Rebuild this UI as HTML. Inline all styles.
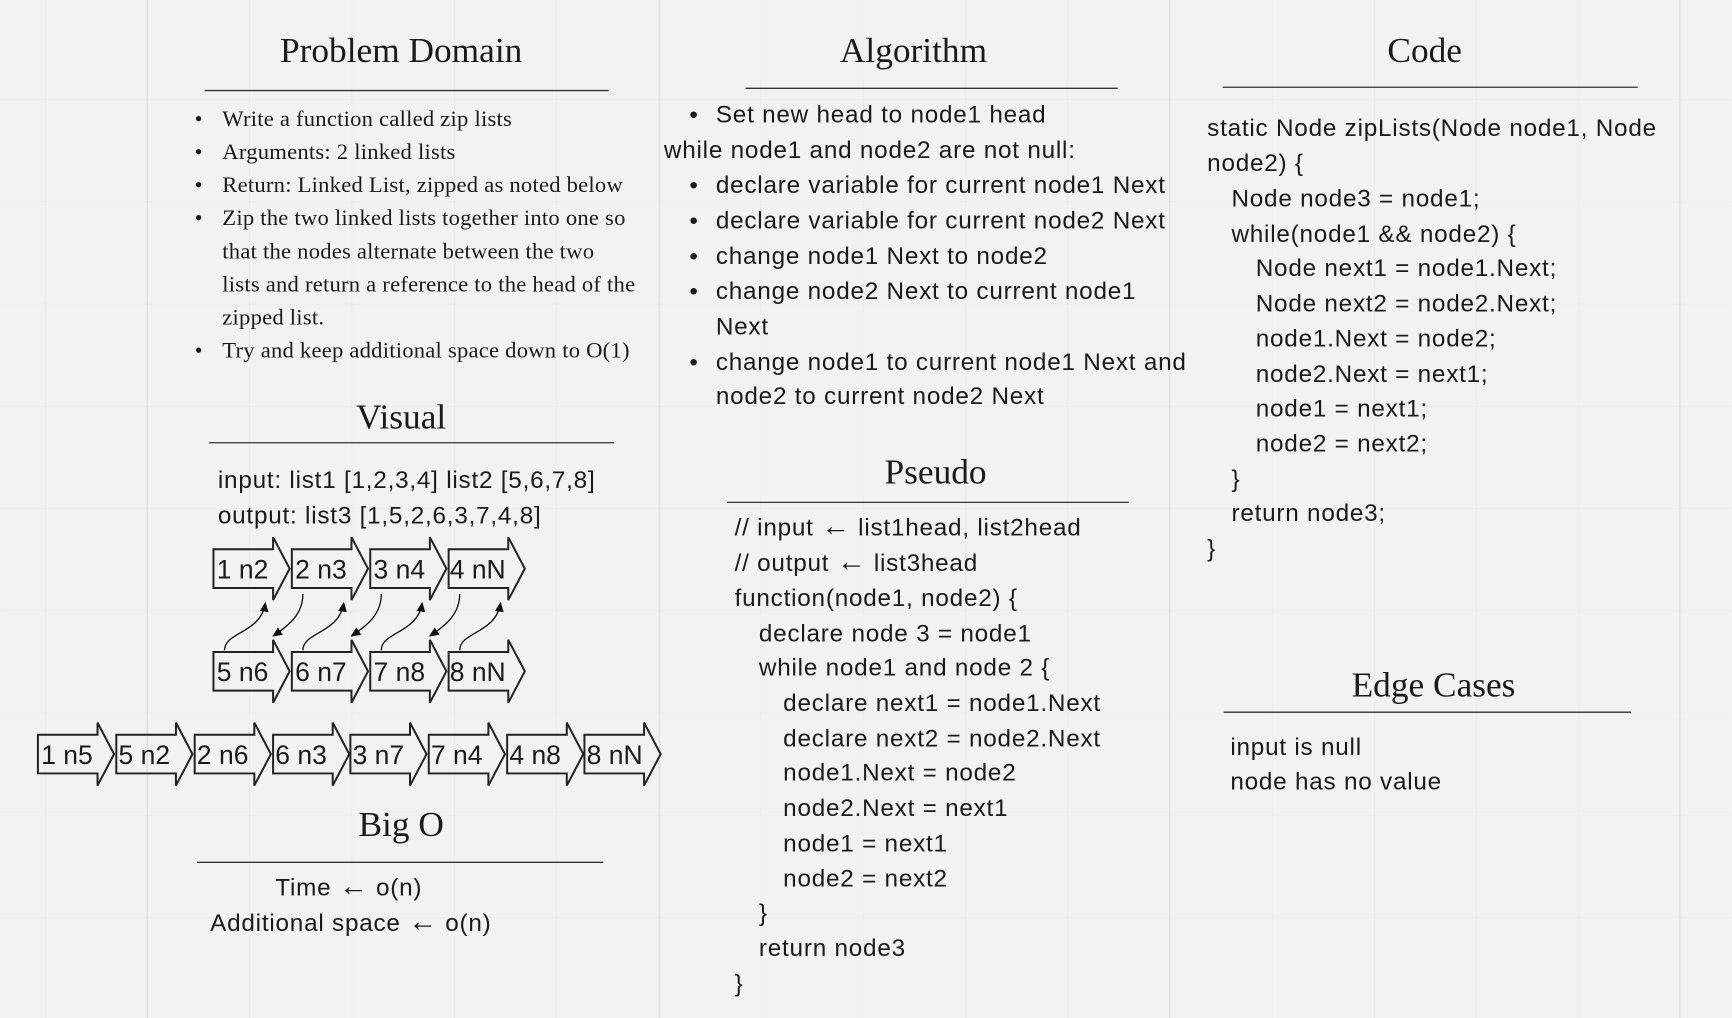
<!DOCTYPE html>
<html><head><meta charset="utf-8"><style>
html,body{margin:0;padding:0;background:#f2f2f2;}
svg{display:block}
.s{font-family:"Liberation Serif",serif;fill:#1a1a1a}
.t{font-family:"Liberation Sans",sans-serif;fill:#1a1a1a}
.b{font-size:22px;letter-spacing:0.7px}
</style></head><body>
<svg width="1732" height="1018" viewBox="0 0 1568 922" xmlns="http://www.w3.org/2000/svg">
<defs>
<marker id="ah" markerWidth="10" markerHeight="10" refX="8" refY="4" orient="auto" markerUnits="userSpaceOnUse">
<path d="M0,0 L9,4 L0,8 Z" fill="#111"/></marker>
<pattern id="g" width="92.6" height="92.6" patternUnits="userSpaceOnUse" x="133" y="90">
<path d="M0,0 V92.6 M0,0 H92.6" stroke="#e8e8e8" stroke-width="1" fill="none"/></pattern>
</defs>
<rect width="1568" height="922" fill="#f2f2f2"/>
<rect width="1568" height="922" fill="url(#g)"/>
<g stroke="#e2e2e2" stroke-width="1.5">
<line x1="133" y1="0" x2="133" y2="922"/><line x1="597" y1="0" x2="597" y2="922"/>
<line x1="1059" y1="0" x2="1059" y2="922"/><line x1="1521" y1="0" x2="1521" y2="922"/>
</g>

<g class="s" font-size="32" text-anchor="middle">
<text x="363" y="56">Problem Domain</text>
<text x="827" y="56">Algorithm</text>
<text x="1290" y="56">Code</text>
<text x="363" y="388">Visual</text>
<text x="847" y="438">Pseudo</text>
<text x="363" y="757">Big O</text>
<text x="1298" y="631">Edge Cases</text>
</g>
<g stroke="#333" stroke-width="1.2">
<line x1="185" y1="82" x2="551" y2="82"/>
<line x1="675" y1="80" x2="1012" y2="80"/>
<line x1="1107" y1="79" x2="1483" y2="79"/>
<line x1="189" y1="401" x2="556" y2="401"/>
<line x1="658" y1="455" x2="1022" y2="455"/>
<line x1="178" y1="781" x2="546" y2="781"/>
<line x1="1108" y1="645" x2="1477" y2="645"/>
</g>

<g class="s" font-size="20.5" letter-spacing="0.2">
<text x="176" y="114">•</text><text x="201" y="114">Write a function called zip lists</text>
<text x="176" y="144">•</text><text x="201" y="144">Arguments: 2 linked lists</text>
<text x="176" y="174">•</text><text x="201" y="174">Return: Linked List, zipped as noted below</text>
<text x="176" y="204">•</text><text x="201" y="204">Zip the two linked lists together into one so</text>
<text x="201" y="234">that the nodes alternate between the two</text>
<text x="201" y="264">lists and return a reference to the head of the</text>
<text x="201" y="294">zipped list.</text>
<text x="176" y="324">•</text><text x="201" y="324">Try and keep additional space down to O(1)</text>
</g>

<g class="t b">
<text x="624" y="111">•</text><text x="648" y="111">Set new head to node1 head</text>
<text x="601" y="143">while node1 and node2 are not null:</text>
<text x="624" y="175">•</text><text x="648" y="175">declare variable for current node1 Next</text>
<text x="624" y="207">•</text><text x="648" y="207">declare variable for current node2 Next</text>
<text x="624" y="239">•</text><text x="648" y="239">change node1 Next to node2</text>
<text x="624" y="271">•</text><text x="648" y="271">change node2 Next to current node1</text>
<text x="648" y="303">Next</text>
<text x="624" y="335">•</text><text x="648" y="335">change node1 to current node1 Next and</text>
<text x="648" y="366">node2 to current node2 Next</text>
</g>

<g class="t b">
<text x="1093" y="123">static Node zipLists(Node node1, Node</text>
<text x="1093" y="155">node2) {</text>
<text x="1115" y="187">Node node3 = node1;</text>
<text x="1115" y="219">while(node1 &amp;&amp; node2) {</text>
<text x="1137" y="250">Node next1 = node1.Next;</text>
<text x="1137" y="282">Node next2 = node2.Next;</text>
<text x="1137" y="314">node1.Next = node2;</text>
<text x="1137" y="346">node2.Next = next1;</text>
<text x="1137" y="377">node1 = next1;</text>
<text x="1137" y="409">node2 = next2;</text>
<text x="1115" y="441">}</text>
<text x="1115" y="472">return node3;</text>
<text x="1093" y="504">}</text>
</g>

<g class="t b">
<text x="1114" y="684">input is null</text>
<text x="1114" y="715">node has no value</text>
</g>

<g class="t b">
<text x="665" y="485">// input <tspan font-size="26">←</tspan> list1head, list2head</text>
<text x="665" y="517">// output <tspan font-size="26">←</tspan> list3head</text>
<text x="665" y="549">function(node1, node2) {</text>
<text x="687" y="581">declare node 3 = node1</text>
<text x="687" y="612">while node1 and node 2 {</text>
<text x="709" y="644">declare next1 = node1.Next</text>
<text x="709" y="676">declare next2 = node2.Next</text>
<text x="709" y="707">node1.Next = node2</text>
<text x="709" y="739">node2.Next = next1</text>
<text x="709" y="771">node1 = next1</text>
<text x="709" y="803">node2 = next2</text>
<text x="687" y="834">}</text>
<text x="687" y="866">return node3</text>
<text x="665" y="898">}</text>
</g>

<g class="t b">
<text x="197" y="442">input: list1 [1,2,3,4] list2 [5,6,7,8]</text>
<text x="197" y="474">output: list3 [1,5,2,6,3,7,4,8]</text>
</g>

<g class="t b">
<text x="249" y="811">Time <tspan font-size="26">←</tspan> o(n)</text>
<text x="190" y="843">Additional space <tspan font-size="26">←</tspan> o(n)</text>
</g>

<g fill="none" stroke="#222" stroke-width="1.8">
<path d="M193,497.5 H247 V486.5 L262,515 L247,543.5 V532.5 H193 Z"/>
<path d="M264,497.5 H318 V486.5 L333,515 L318,543.5 V532.5 H264 Z"/>
<path d="M335,497.5 H389 V486.5 L404,515 L389,543.5 V532.5 H335 Z"/>
<path d="M406,497.5 H460 V486.5 L475,515 L460,543.5 V532.5 H406 Z"/>
<path d="M193,590.5 H247 V579.5 L262,608 L247,636.5 V625.5 H193 Z"/>
<path d="M264,590.5 H318 V579.5 L333,608 L318,636.5 V625.5 H264 Z"/>
<path d="M335,590.5 H389 V579.5 L404,608 L389,636.5 V625.5 H335 Z"/>
<path d="M406,590.5 H460 V579.5 L475,608 L460,636.5 V625.5 H406 Z"/>
<path d="M34,665.5 H88 V654.5 L103,683 L88,711.5 V700.5 H34 Z"/>
<path d="M105,665.5 H159 V654.5 L174,683 L159,711.5 V700.5 H105 Z"/>
<path d="M176,665.5 H230 V654.5 L245,683 L230,711.5 V700.5 H176 Z"/>
<path d="M247,665.5 H301 V654.5 L316,683 L301,711.5 V700.5 H247 Z"/>
<path d="M317,665.5 H371 V654.5 L386,683 L371,711.5 V700.5 H317 Z"/>
<path d="M388,665.5 H442 V654.5 L457,683 L442,711.5 V700.5 H388 Z"/>
<path d="M459,665.5 H513 V654.5 L528,683 L513,711.5 V700.5 H459 Z"/>
<path d="M529,665.5 H583 V654.5 L598,683 L583,711.5 V700.5 H529 Z"/>
</g>
<g fill="none" stroke="#111" stroke-width="1.2" marker-end="url(#ah)">
<path d="M203,589 C203,572 236,574 240,546"/>
<path d="M274,589 C274,572 307,574 311,546"/>
<path d="M345,589 C345,572 378,574 382,546"/>
<path d="M416,589 C416,572 449,574 453,546"/>
<path d="M274,538 C274,556 262,566 247,576"/>
<path d="M345,538 C345,556 333,566 318,576"/>
<path d="M416,538 C416,556 404,566 389,576"/>
</g>
<g class="t" font-size="24">
<text x="196" y="524">1 n2</text><text x="267" y="524">2 n3</text><text x="338" y="524">3 n4</text><text x="407" y="524">4 nN</text>
<text x="196" y="617">5 n6</text><text x="267" y="617">6 n7</text><text x="338" y="617">7 n8</text><text x="407" y="617">8 nN</text>
<text x="37" y="692">1 n5</text><text x="107" y="692">5 n2</text><text x="178" y="692">2 n6</text><text x="249" y="692">6 n3</text>
<text x="319" y="692">3 n7</text><text x="390" y="692">7 n4</text><text x="461" y="692">4 n8</text><text x="531" y="692">8 nN</text>
</g>
</svg>
</body></html>
